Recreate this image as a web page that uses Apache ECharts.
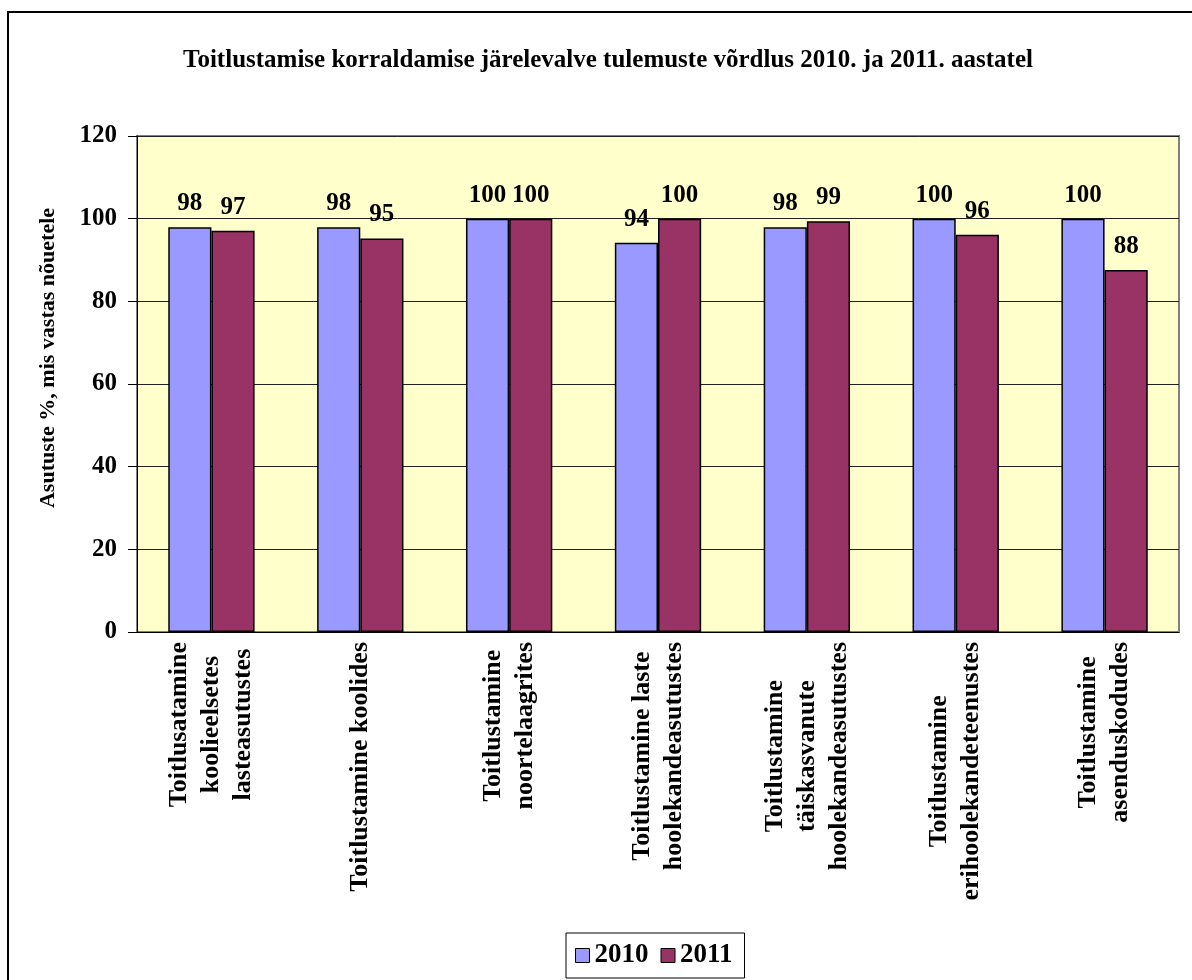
<!DOCTYPE html>
<html>
<head>
<meta charset="utf-8">
<title>Toitlustamise järelevalve</title>
<script src="https://cdn.jsdelivr.net/npm/echarts@6/dist/echarts.min.js"></script>
<style>
  html, body { margin: 0; padding: 0; background: #fff; }
  #chart { width: 1192px; height: 980px; }
</style>
</head>
<body>
<div id="chart"></div>
<script>
var categories = [
	'Toitlusatamine\nkoolieelsetes\nlasteasutustes',
	'Toitlustamine koolides',
	'Toitlustamine\nnoortelaagrites',
	'Toitlustamine laste\nhoolekandeasutustes',
	'Toitlustamine\ntäiskasvanute\nhoolekandeasutustes',
	'Toitlustamine\nerihoolekandeteenustes',
	'Toitlustamine\nasenduskodudes'
];
var seriesNames = ['2010', '2011'];
var values2010 = [97.9, 97.9, 100, 94.2, 97.9, 100, 100];
var values2011 = [97.1, 95.2, 100, 100, 99.4, 96.1, 87.6];
var yTicks = { min: 0, max: 120, interval: 20 };

var FONT = "'Liberation Serif', 'Times New Roman', serif";

var labelStyle = {
	show: true,
	position: 'top',
	distance: 11,
	fontFamily: FONT,
	fontWeight: 'bold',
	fontSize: 25,
	color: '#000',
	formatter: function(p) {
		return Math.round(p.value);
	}
};

var option = {
	backgroundColor: '#fff',
	animation: false,
	title: {
		text: 'Toitlustamise korraldamise järelevalve tulemuste võrdlus 2010. ja 2011. aastatel',
		left: 603,
		textAlign: 'center',
		top: 43,
		textStyle: {
			fontFamily: FONT,
			fontWeight: 'bold',
			fontSize: 25,
			color: '#000'
		}
	},
	legend: {
		data: seriesNames,
		left: 566,
		top: 933,
		icon: 'rect',
		itemWidth: 14,
		itemHeight: 14,
		itemGap: 12,
		padding: [9, 12, 9, 9],
		borderColor: '#000',
		borderWidth: 1,
		backgroundColor: '#fff',
		itemStyle: { borderColor: '#000', borderWidth: 1 },
		textStyle: {
			fontFamily: FONT,
			fontWeight: 'bold',
			fontSize: 27,
			color: '#000'
		}
	},
	grid: {
		left: 137,
		right: 13,
		top: 136,
		bottom: 348,
		show: true,
		backgroundColor: '#FFFFCC',
		borderColor: '#808080',
		borderWidth: 2
	},
	graphic: [
		{
			type: 'rect',
			shape: { x: 8, y: 12, width: 1200, height: 1000 },
			style: { fill: 'none', stroke: '#000', lineWidth: 2 },
			silent: true,
			z: -1
		}
	],
	xAxis: {
		type: 'category',
		data: categories,
		axisLine: { lineStyle: { color: '#000', width: 1 } },
		axisTick: { length: 7, lineStyle: { color: '#000' } },
		axisLabel: {
			interval: 0,
			rotate: 90,
			margin: 10,
			formatter: function(val) {
				return val.split('\n').map(function(s) { return '{c|' + s + '}'; }).join('\n');
			},
			rich: {
				c: {
					align: 'center',
					fontFamily: FONT,
					fontWeight: 'bold',
					fontSize: 26,
					lineHeight: 32,
					color: '#000'
				}
			}
		}
	},
	yAxis: {
		type: 'value',
		min: yTicks.min,
		max: yTicks.max,
		interval: yTicks.interval,
		name: 'Asutuste %, mis vastas nõuetele',
		nameLocation: 'middle',
		nameGap: 78,
		nameTextStyle: {
			fontFamily: FONT,
			fontWeight: 'bold',
			fontSize: 22,
			color: '#000',
			padding: [0, 0, 0, 52]
		},
		axisLine: { show: true, lineStyle: { color: '#000', width: 1 } },
		axisTick: { show: true, length: 9, lineStyle: { color: '#000' } },
		axisLabel: {
			margin: 20,
			fontFamily: FONT,
			fontWeight: 'bold',
			fontSize: 25,
			color: '#000'
		},
		splitLine: { lineStyle: { color: '#222', width: 1 } }
	},
	series: [
		{
			name: seriesNames[0],
			type: 'bar',
			data: values2010,
			barCategoryGap: '42%',
			barGap: '0%',
			itemStyle: { color: '#9999FF', borderColor: '#000', borderWidth: 1.5 },
			label: labelStyle
		},
		{
			name: seriesNames[1],
			type: 'bar',
			data: values2011,
			barCategoryGap: '42%',
			barGap: '0%',
			itemStyle: { color: '#993366', borderColor: '#000', borderWidth: 1.5 },
			label: labelStyle
		}
	]
};

var chart = echarts.init(document.getElementById('chart'));
chart.setOption(option);
</script>
</body>
</html>
